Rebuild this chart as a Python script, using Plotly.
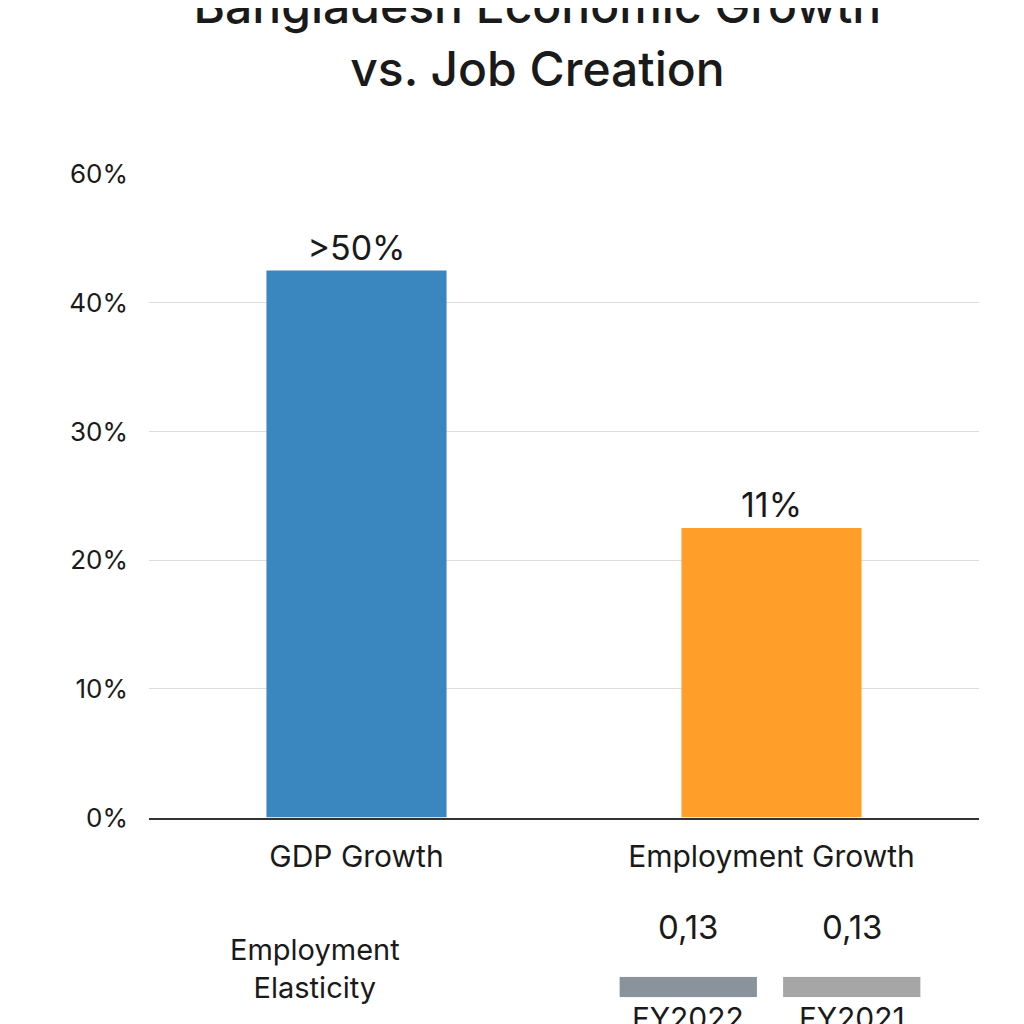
import plotly.graph_objects as go

categories = ["GDP Growth", "Employment Growth"]
values = [42.5, 22.5]
bar_labels = [">50%", "11%"]
bar_colors = ["#3a87c0", "#ff9f2a"]
tick_vals = [0, 10, 20, 30, 40, 50]
tick_text = ["0%", "10%", "20%", "30%", "40%", "60%"]

elasticity_years = ["FY2022", "FY2021"]
elasticity_values = [0.13, 0.13]
elasticity_labels = ["0,13", "0,13"]
elasticity_colors = ["#8a939b", "#a6a6a6"]

T = 166
H = 1024 - T  # plot height (b=0)
font = "Inter, Roboto, sans-serif"

fig = go.Figure()
fig.add_trace(go.Bar(
    x=categories, y=values, width=0.434, marker_color=bar_colors,
    marker_line_width=0, text=bar_labels, textposition="outside",
    textfont=dict(size=34, color="#1a1a1a"), cliponaxis=False,
    xaxis="x", yaxis="y", showlegend=False))
fig.add_trace(go.Bar(
    x=elasticity_years, y=elasticity_values, width=0.84,
    marker_color=elasticity_colors, marker_line_width=0,
    xaxis="x2", yaxis="y2", showlegend=False, hoverinfo="skip"))

annotations = []
annotations.append(dict(text="Employment<br>Elasticity", xref="paper", yref="paper",
                        x=(307 - 141) / 830, y=(1024 - 975) / H, showarrow=False,
                        font=dict(size=29, color="#1a1a1a"), align="center",
                        xanchor="center", yanchor="middle"))
for yr, lab in zip(elasticity_years, elasticity_labels):
    annotations.append(dict(text=lab, x=yr, xref="x2", yref="paper",
                            y=(1024 - 955) / H, showarrow=False,
                            font=dict(size=33, color="#1a1a1a")))
    annotations.append(dict(text=yr, x=yr, xref="x2", yref="paper",
                            y=(1024 - 1045) / H, showarrow=False,
                            font=dict(size=30, color="#1a1a1a")))

fig.update_layout(
    width=1024, height=1024,
    margin=dict(l=141, r=53, t=T, b=0),
    paper_bgcolor="white", plot_bgcolor="white",
    font=dict(family=font, color="#1a1a1a"),
    title=dict(text="Bangladesh Economic Growth<br>vs. Job Creation",
               x=0.517, xanchor="center", y=0.985, yanchor="top",
               font=dict(size=48, color="#1a1a1a", family=font, weight=500)),
    xaxis=dict(domain=[0, 1], showline=True, linecolor="#333", linewidth=1.5,
               tickfont=dict(size=30), ticks="", anchor="y",
               ticklabelstandoff=12),
    yaxis=dict(domain=[203 / H, 1], range=[0, 50], tickvals=tick_vals,
               ticktext=tick_text, tickfont=dict(size=26), gridcolor="#dddddd",
               zeroline=False, ticks="", ticklabelstandoff=20),
    xaxis2=dict(domain=[(618 - 148) / 830 - 0.015, (920 - 148) / 830 + 0.015],
                anchor="y2", showticklabels=False, showline=False, ticks=""),
    yaxis2=dict(domain=[20 / H, 41 / H], range=[0, 0.13], visible=False,
                anchor="x2"),
    annotations=annotations,
)

fig.write_html("out.html")
